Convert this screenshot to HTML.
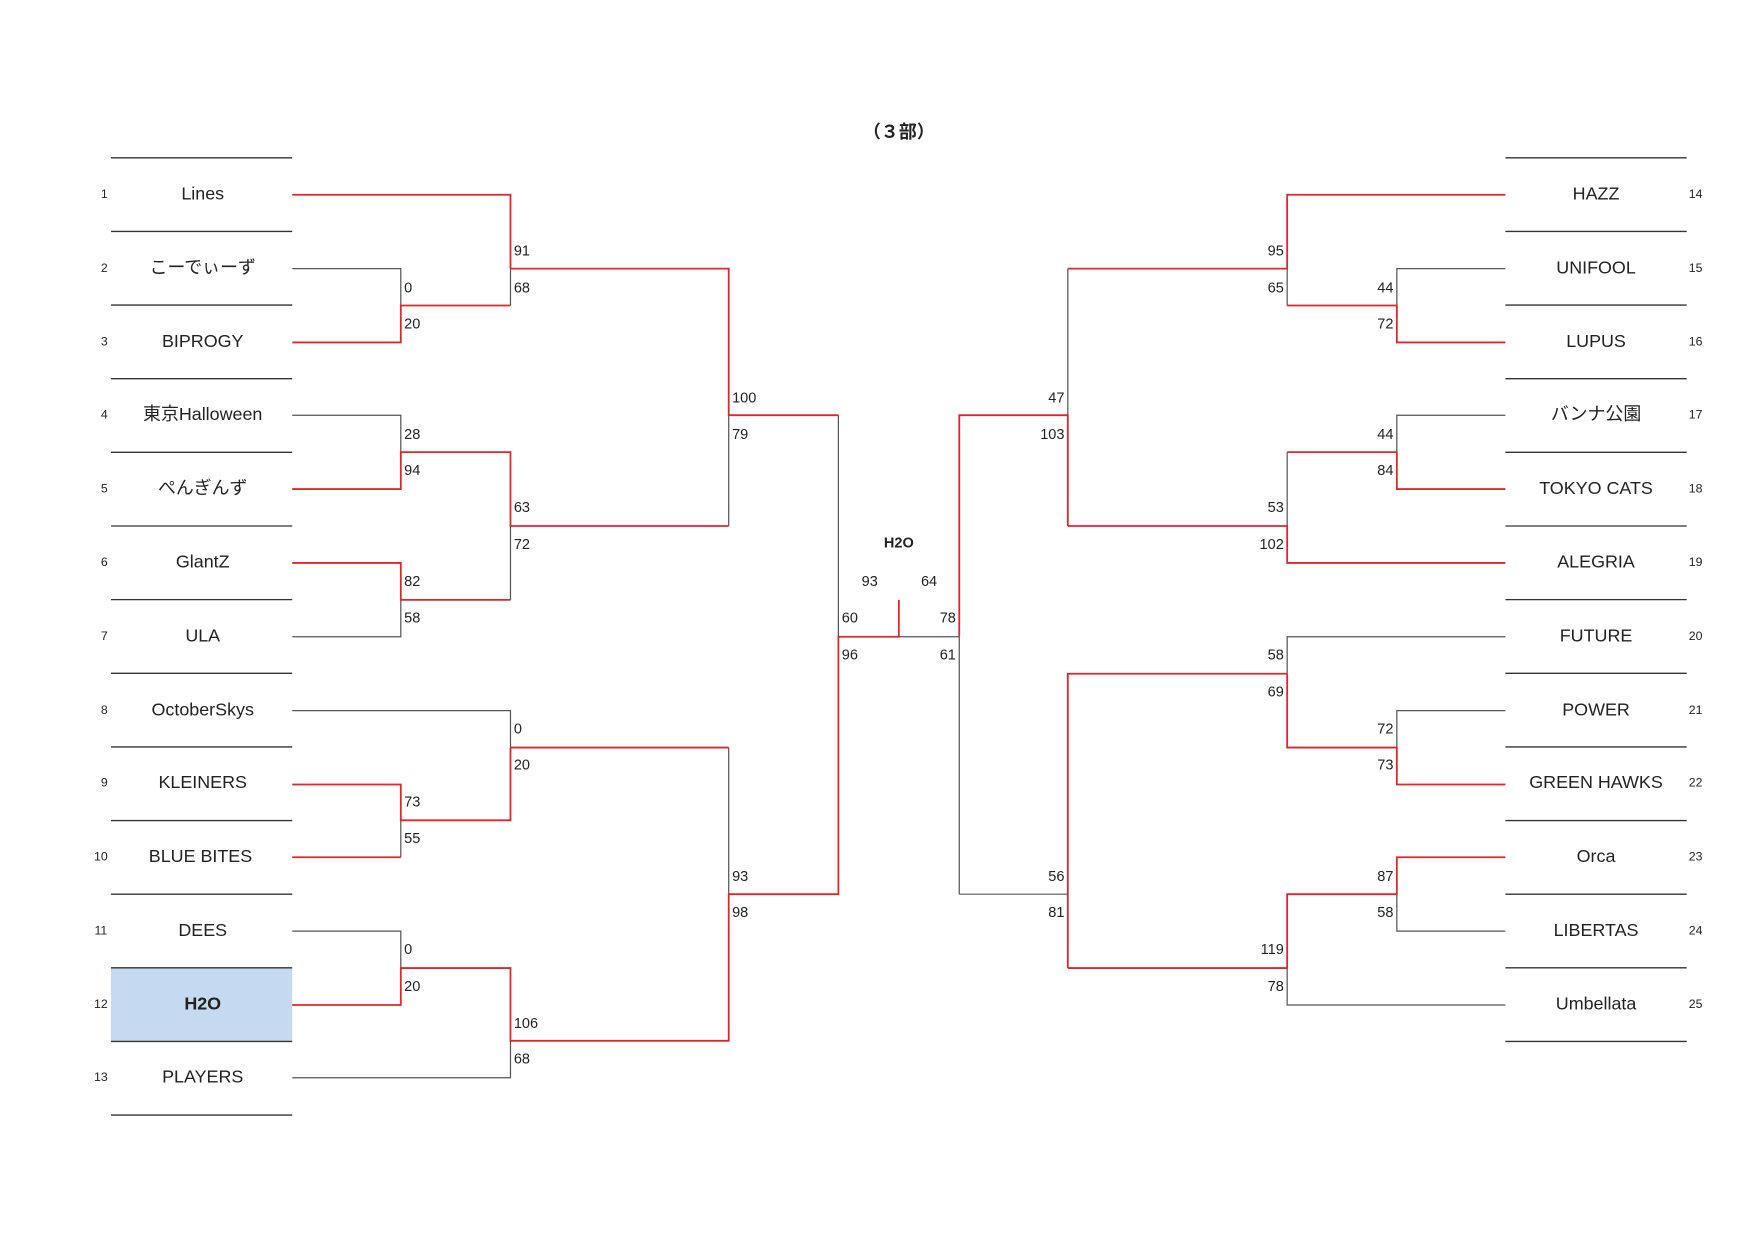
<!DOCTYPE html>
<html><head><meta charset="utf-8"><style>
html,body{margin:0;padding:0;background:#fff;}
svg{display:block;}
text{font-family:"Liberation Sans","Noto Sans CJK JP",sans-serif;fill:#222;dominant-baseline:middle;}
.t{font-size:16px;text-anchor:middle;}
.n{font-size:11px;text-anchor:middle;}
.s{font-size:13px;}
.e{text-anchor:end;}
.R{fill:none;stroke:#e0262b;stroke-width:1.6;}
.K{fill:none;stroke:#555;stroke-width:1.1;}
.L{stroke:#333;stroke-width:1.2;}
</style></head><body>
<svg width="1754" height="1240" viewBox="0 0 1567 1108" xmlns="http://www.w3.org/2000/svg">
<text x="803" y="119" class="t" style="font-weight:bold;font-size:16px">（３部）</text>
<rect x="99" y="865" width="162" height="65.6" fill="#c5d9f1"/>
<g class="L">
<line x1="99" x2="261" y1="141" y2="141"/><line x1="99" x2="261" y1="206.8" y2="206.8"/><line x1="99" x2="261" y1="272.6" y2="272.6"/><line x1="99" x2="261" y1="338.4" y2="338.4"/><line x1="99" x2="261" y1="404.2" y2="404.2"/><line x1="99" x2="261" y1="470" y2="470"/><line x1="99" x2="261" y1="535.8" y2="535.8"/><line x1="99" x2="261" y1="601.6" y2="601.6"/><line x1="99" x2="261" y1="667.4" y2="667.4"/><line x1="99" x2="261" y1="733.2" y2="733.2"/><line x1="99" x2="261" y1="799" y2="799"/><line x1="99" x2="261" y1="864.8" y2="864.8"/><line x1="99" x2="261" y1="930.6" y2="930.6"/><line x1="99" x2="261" y1="996.4" y2="996.4"/>
<line x1="1345" x2="1507" y1="141" y2="141"/><line x1="1345" x2="1507" y1="206.8" y2="206.8"/><line x1="1345" x2="1507" y1="272.6" y2="272.6"/><line x1="1345" x2="1507" y1="338.4" y2="338.4"/><line x1="1345" x2="1507" y1="404.2" y2="404.2"/><line x1="1345" x2="1507" y1="470" y2="470"/><line x1="1345" x2="1507" y1="535.8" y2="535.8"/><line x1="1345" x2="1507" y1="601.6" y2="601.6"/><line x1="1345" x2="1507" y1="667.4" y2="667.4"/><line x1="1345" x2="1507" y1="733.2" y2="733.2"/><line x1="1345" x2="1507" y1="799" y2="799"/><line x1="1345" x2="1507" y1="864.8" y2="864.8"/><line x1="1345" x2="1507" y1="930.6" y2="930.6"/>
</g>
<g class="t">
<text x="181" y="174">Lines</text><text x="181" y="240">こーでぃーず</text><text x="181" y="306">BIPROGY</text><text x="181" y="371">東京Halloween</text><text x="181" y="437">ぺんぎんず</text><text x="181" y="503">GlantZ</text><text x="181" y="569">ULA</text><text x="181" y="635">OctoberSkys</text><text x="181" y="700">KLEINERS</text><text x="179" y="766">BLUE BITES</text><text x="181" y="832">DEES</text><text x="181" y="898" style="font-weight:bold">H2O</text><text x="181" y="963">PLAYERS</text>
<text x="1426" y="174">HAZZ</text><text x="1426" y="240">UNIFOOL</text><text x="1426" y="306">LUPUS</text><text x="1426" y="371">バンナ公園</text><text x="1426" y="437">TOKYO CATS</text><text x="1426" y="503">ALEGRIA</text><text x="1426" y="569">FUTURE</text><text x="1426" y="635">POWER</text><text x="1426" y="700">GREEN HAWKS</text><text x="1426" y="766">Orca</text><text x="1426" y="832">LIBERTAS</text><text x="1426" y="898">Umbellata</text>
</g>
<g class="n">
<text x="93" y="174">1</text><text x="93" y="240">2</text><text x="93" y="306">3</text><text x="93" y="371">4</text><text x="93" y="437">5</text><text x="93" y="503">6</text><text x="93" y="569">7</text><text x="93" y="635">8</text><text x="93" y="700">9</text><text x="90" y="766">10</text><text x="90" y="832">11</text><text x="90" y="898">12</text><text x="90" y="963">13</text>
<text x="1515" y="174">14</text><text x="1515" y="240">15</text><text x="1515" y="306">16</text><text x="1515" y="371">17</text><text x="1515" y="437">18</text><text x="1515" y="503">19</text><text x="1515" y="569">20</text><text x="1515" y="635">21</text><text x="1515" y="700">22</text><text x="1515" y="766">23</text><text x="1515" y="832">24</text><text x="1515" y="898">25</text>
</g>
<g class="K">
<path d="M261 240 H358 V273"/><path d="M456 273 V240"/><path d="M261 371 H358 V404"/><path d="M456 470 V536"/><path d="M358 536 V569 H261"/><path d="M651 371 V470"/><path d="M261 635 H456 V668"/><path d="M358 733 V766"/><path d="M261 832 H358 V865"/><path d="M261 963 H456 V930"/><path d="M651 668 V799"/><path d="M749 371 V569"/>
<path d="M1150 240 V273"/><path d="M1345 240 H1248 V273"/><path d="M954 240 V371"/><path d="M1345 371 H1248 V404"/><path d="M1150 404 V470"/><path d="M1345 569 H1150 V602"/><path d="M1345 635 H1248 V668"/><path d="M1248 799 V832 H1345"/><path d="M1345 898 H1150 V865"/><path d="M954 799 H857"/><path d="M857 569 V799"/><path d="M857 569 H803"/>
</g>
<g class="R">
<path d="M261 174 H456 V240"/><path d="M261 306 H358 V273 H456"/><path d="M456 240 H651 V371 H749"/><path d="M261 437 H358 V404 H456 V470 H651"/><path d="M261 503 H358 V536 H456"/><path d="M456 668 H651"/><path d="M261 701 H358 V733 H456 V668"/><path d="M358 766 H261"/><path d="M261 898 H358 V865 H456 V930 H651 V799 H749 V569 H803 V536"/>
<path d="M1345 174 H1150 V240 H954"/><path d="M1345 306 H1248 V273 H1150"/><path d="M954 470 V371 H857 V569"/><path d="M1345 437 H1248 V404 H1150"/><path d="M1345 503 H1150 V470 H954"/><path d="M1150 602 V668 H1248 V701 H1345"/><path d="M1150 602 H954 V865"/><path d="M1345 766 H1248 V799 H1150 V865 H954"/>
</g>
<g class="s">
<text x="361" y="258">0</text><text x="361" y="290">20</text><text x="361" y="389">28</text><text x="361" y="421">94</text><text x="361" y="520">82</text><text x="361" y="553">58</text><text x="361" y="717">73</text><text x="361" y="750">55</text><text x="361" y="849">0</text><text x="361" y="882">20</text>
<text x="459" y="225">91</text><text x="459" y="258">68</text><text x="459" y="454">63</text><text x="459" y="487">72</text><text x="459" y="652">0</text><text x="459" y="684">20</text><text x="459" y="915">106</text><text x="459" y="947">68</text>
<text x="654" y="356">100</text><text x="654" y="389">79</text><text x="654" y="784">93</text><text x="654" y="816">98</text>
<text x="752" y="553">60</text><text x="752" y="586">96</text>
</g>
<g class="s e">
<text x="1245" y="258">44</text><text x="1245" y="290">72</text><text x="1245" y="389">44</text><text x="1245" y="421">84</text><text x="1245" y="652">72</text><text x="1245" y="684">73</text><text x="1245" y="784">87</text><text x="1245" y="816">58</text>
<text x="1147" y="225">95</text><text x="1147" y="258">65</text><text x="1147" y="454">53</text><text x="1147" y="487">102</text><text x="1147" y="586">58</text><text x="1147" y="619">69</text><text x="1147" y="849">119</text><text x="1147" y="882">78</text>
<text x="951" y="356">47</text><text x="951" y="389">103</text><text x="951" y="784">56</text><text x="951" y="816">81</text>
<text x="854" y="553">78</text><text x="854" y="586">61</text>
</g>
<text x="803" y="486" class="s" style="text-anchor:middle;font-weight:bold">H2O</text>
<text x="777" y="520" class="s" style="text-anchor:middle">93</text>
<text x="830" y="520" class="s" style="text-anchor:middle">64</text>
</svg>
</body></html>
